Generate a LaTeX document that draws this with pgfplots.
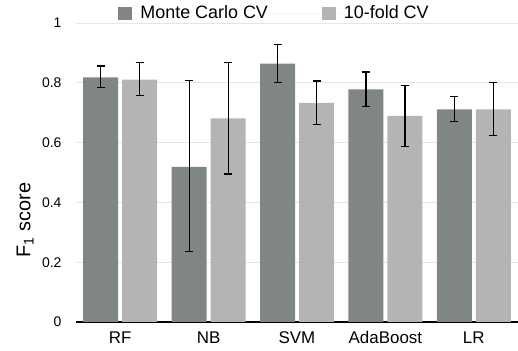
\documentclass[border=0pt]{standalone}
\usepackage{fontspec}
\setmainfont{Liberation Sans}
\usepackage{pgfplots}
\usepackage{pgfplotstable}
\pgfplotsset{compat=1.18}
\definecolor{darkbar}{RGB}{128,134,131}
\definecolor{lightbar}{RGB}{180,180,180}
\definecolor{gridc}{RGB}{229,229,229}
\pgfplotstableread{
x y ep em
0 0.818 0.038 0.034
1 0.519 0.288 0.284
2 0.864 0.063 0.063
3 0.778 0.058 0.057
4 0.711 0.043 0.040
}\mc
\pgfplotstableread{
x y ep em
0 0.811 0.056 0.053
1 0.681 0.187 0.186
2 0.733 0.073 0.072
3 0.689 0.101 0.101
4 0.711 0.090 0.088
}\kf
\begin{document}
\begin{tikzpicture}
\begin{axis}[
  name=ax,
  scale only axis,
  width=442bp, height=299bp,
  xmin=-0.5, xmax=4.5, ymin=0, ymax=1,
  enlargelimits=false,
  ybar, bar width=35bp,
  xtick={0,1,2,3,4},
  xticklabels={RF,NB,SVM,AdaBoost,LR},
  ytick={0,0.2,0.4,0.6,0.8,1},
  yticklabels={0,0.2,0.4,0.6,0.8,1},
  major tick length=0pt,
  /pgf/number format/assume math mode=true,
  ymajorgrids, major grid style={gridc, line width=0.8bp},
  axis x line*=bottom, axis y line*=left,
  x axis line style={-, black, line width=1.2bp},
  y axis line style={draw=none},
  xticklabel style={font=\fontsize{17}{19}\selectfont, yshift=-6bp},
  yticklabel style={font=\fontsize{14}{16}\selectfont, xshift=-11bp},
  ylabel={F\textsubscript{1} score},
  ylabel style={font=\fontsize{20}{24}\selectfont, at={(axis description cs:-0.115,0.341)}, anchor=center},
  legend style={draw=none, fill=none, at={(axis description cs:0.0955,1.033)}, anchor=west,
    font=\fontsize{18}{20}\selectfont, column sep=0pt, inner sep=0pt},
  legend columns=2,
  error bars/error bar style={black, line width=1.2bp},
  error bars/error mark options={rotate=90, black, mark size=4bp, line width=1.2bp},
]
\addplot[fill=darkbar, draw=none, bar shift=-19.5bp,
  legend image code/.code={\path (0bp,0bp) -- (20bp,0bp); \fill[darkbar] (0bp,-6.5bp) rectangle (14bp,6.5bp);},
  error bars/.cd, y dir=both, y explicit]
  table[x=x, y=y, y error plus=ep, y error minus=em]{\mc};
\addplot[fill=lightbar, draw=none, bar shift=19.5bp,
  legend image code/.code={\path (-52bp,0bp) -- (20bp,0bp); \fill[lightbar] (0bp,-6.5bp) rectangle (14bp,6.5bp);},
  error bars/.cd, y dir=both, y explicit]
  table[x=x, y=y, y error plus=ep, y error minus=em]{\kf};
\legend{Monte Carlo CV, 10-fold CV}
\end{axis}
\pgfresetboundingbox
\path[use as bounding box] (ax.south west) ++(-76bp,-29bp) rectangle ++(518bp,351bp);
\end{tikzpicture}
\end{document}
